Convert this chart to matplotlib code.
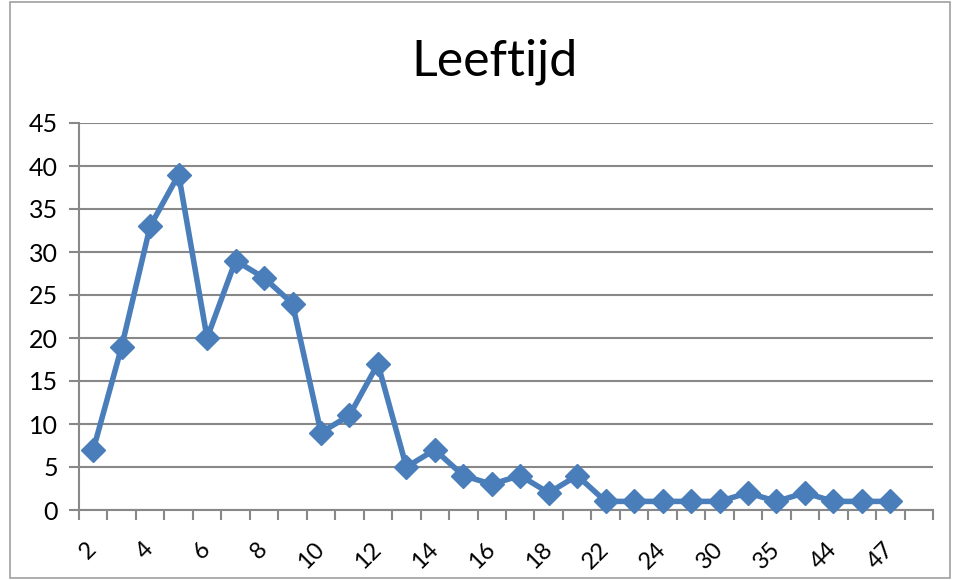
import matplotlib.pyplot as plt
from matplotlib.patches import Rectangle

# Leeftijd categories (every other label is shown on the axis);
# the last category is an empty slot without a value
ages = ["2", "3", "4", "5", "6", "7", "8", "9", "10", "11", "12", "13", "14", "15",
        "16", "17", "18", "20", "22", "23", "24", "27", "30", "32", "35", "40",
        "44", "45", "47", ""]
counts = [7, 19, 33, 39, 20, 29, 27, 24, 9, 11, 17, 5, 7, 4, 3, 4, 2, 4,
          1, 1, 1, 1, 1, 2, 1, 2, 1, 1, 1, float("nan")]
y_ticks = [0, 5, 10, 15, 20, 25, 30, 35, 40, 45]

plt.rcParams['font.family'] = ['Lato', 'DejaVu Sans']

fig = plt.figure(figsize=(9.58, 5.8), dpi=100)
ax = fig.add_axes([79 / 958, 70 / 580, (933 - 79) / 958, (510 - 123) / 580])

grid_col = "#888888"
x = list(range(len(ages)))
ax.plot(x, counts, color="#4a7ebb", linewidth=4, marker="D", markersize=12,
        markeredgecolor="#4a7ebb", zorder=3, clip_on=False)

ax.set_xlim(-0.5, len(ages) - 0.5)
ax.set_ylim(0, 45)
ax.set_yticks(y_ticks)
ax.yaxis.grid(True, color=grid_col, linewidth=1.5)
ax.set_axisbelow(True)

ax.set_xticks(x[::2])
ax.set_xticklabels(ages[::2], rotation=45, ha="right", va="center",
                   rotation_mode="anchor", fontsize=17)
ax.set_xticks([i - 0.5 for i in range(len(ages) + 1)], minor=True)
ax.tick_params(axis="x", which="major", length=0, pad=26)
ax.tick_params(axis="x", which="minor", length=7, width=1.5, color=grid_col)
ax.tick_params(axis="y", length=7, width=1.5, color=grid_col, labelsize=18, pad=8)

for side in ["top", "right"]:
    ax.spines[side].set_visible(False)
for side in ["left", "bottom"]:
    ax.spines[side].set_color(grid_col)
    ax.spines[side].set_linewidth(1.5)

fig.text(495 / 958, 1 - 62 / 580, "Leeftijd", ha="center", va="center",
         fontsize=36, color="black")

# chart border
fig.patches.append(Rectangle((10 / 958, 0.003), 940 / 958, 0.994, transform=fig.transFigure,
                             fill=False, edgecolor="#a0a0a0", linewidth=1.2))

fig.savefig("out.png", dpi=100)
